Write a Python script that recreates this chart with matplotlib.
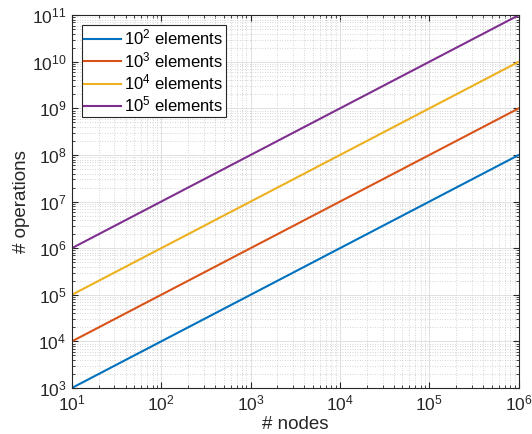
import matplotlib
matplotlib.use("Agg")
import matplotlib.pyplot as plt
from matplotlib.ticker import LogLocator, NullFormatter

nodes = [1e1, 1e2, 1e3, 1e4, 1e5, 1e6]
ops_1e2 = [1e3, 1e4, 1e5, 1e6, 1e7, 1e8]
ops_1e3 = [1e4, 1e5, 1e6, 1e7, 1e8, 1e9]
ops_1e4 = [1e5, 1e6, 1e7, 1e8, 1e9, 1e10]
ops_1e5 = [1e6, 1e7, 1e8, 1e9, 1e10, 1e11]
labels = [r"10$^2$ elements", r"10$^3$ elements", r"10$^4$ elements", r"10$^5$ elements"]
colors = ["#0072BD", "#D95319", "#EDB120", "#7E2F8E"]

plt.rcParams['font.family'] = ['Liberation Sans', 'DejaVu Sans']
plt.rcParams['mathtext.fontset'] = 'custom'
plt.rcParams['mathtext.rm'] = 'Liberation Sans'
plt.rcParams['mathtext.it'] = 'Liberation Sans'

fig = plt.figure(figsize=(5.32, 4.34), dpi=100)
ax = fig.add_axes([0.135, 0.106, 0.840, 0.859])

for ys, lab, c in zip([ops_1e2, ops_1e3, ops_1e4, ops_1e5], labels, colors):
    ax.loglog(nodes, ys, color=c, lw=1.5, label=lab)

ax.set_xlim(1e1, 1e6)
ax.set_ylim(1e3, 1e11)
ax.xaxis.set_major_locator(LogLocator(base=10, numticks=20))
ax.yaxis.set_major_locator(LogLocator(base=10, numticks=20))
ax.xaxis.set_minor_locator(LogLocator(base=10, subs=range(2, 10), numticks=20))
ax.yaxis.set_minor_locator(LogLocator(base=10, subs=range(2, 10), numticks=20))
ax.xaxis.set_minor_formatter(NullFormatter())
ax.yaxis.set_minor_formatter(NullFormatter())

ax.grid(True, which='major', color='#dcdcdc', lw=0.6, ls='-')
ax.grid(True, which='minor', color='#c8c8c8', lw=0.6, ls=(0, (1, 2)))
ax.set_axisbelow(True)

ax.tick_params(which='both', direction='in', top=True, right=True, colors='#262626', labelsize=12.5)
ax.tick_params(which='major', length=4, pad=4)
ax.tick_params(which='minor', length=2)
for s in ax.spines.values():
    s.set_color('#262626')
    s.set_linewidth(0.8)

ax.set_xlabel("# nodes", fontsize=13.5, color='#262626', labelpad=2)
ax.set_ylabel("# operations", fontsize=13.5, color='#262626', labelpad=1)

leg = ax.legend(loc='upper left', fontsize=12, fancybox=False, framealpha=1,
                edgecolor='#262626', handlelength=2.2, handletextpad=0.2,
                borderpad=0.15, labelspacing=0.15, bbox_to_anchor=(0.0, 1.0),
                borderaxespad=0.6)
leg.get_frame().set_linewidth(0.8)

fig.savefig("out.png", dpi=100)
